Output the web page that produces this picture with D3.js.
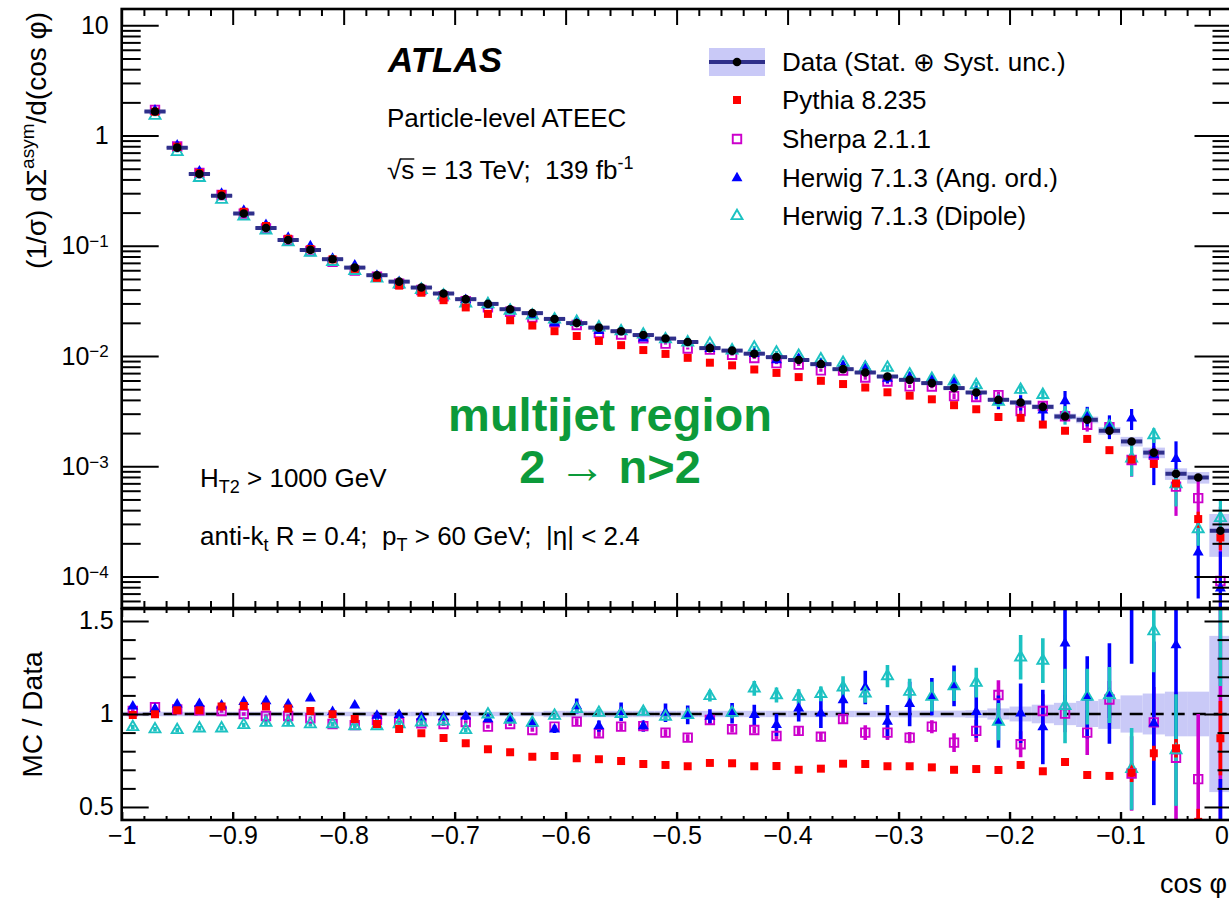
<!DOCTYPE html>
<html>
<head>
<meta charset="utf-8">
<script src="https://cdn.jsdelivr.net/npm/d3@7"></script>
<style>
html,body{margin:0;padding:0;background:#fff;}
svg{display:block;}
text{font-family:"Liberation Sans",Arial,Helvetica,sans-serif;}
</style>
</head>
<body>
<svg id="chart" width="1229" height="898"></svg>
<script>
// ---------------- DATA ----------------
const binCenters = [-0.99,-0.97,-0.95,-0.93,-0.91,-0.89,-0.87,-0.85,-0.83,-0.81,-0.79,-0.77,-0.75,-0.73,-0.71,-0.69,-0.67,-0.65,-0.63,-0.61,-0.59,-0.57,-0.55,-0.53,-0.51,-0.49,-0.47,-0.45,-0.43,-0.41,-0.39,-0.37,-0.35,-0.33,-0.31,-0.29,-0.27,-0.25,-0.23,-0.21,-0.19,-0.17,-0.15,-0.13,-0.11,-0.09,-0.07,-0.05,-0.03,-0.01];
const binHalfWidth = 0.01;

const dataValues = [25,1.65,0.777,0.449,0.284,0.196,0.145,0.113,0.0918,0.0756,0.0634,0.0541,0.0473,0.0418,0.0369,0.0328,0.0297,0.0266,0.0245,0.0217,0.0199,0.0181,0.0168,0.0155,0.0144,0.0134,0.0118,0.0112,0.0105,0.00977,0.0092,0.00844,0.0076,0.00709,0.00652,0.00608,0.00568,0.00512,0.00467,0.00401,0.00379,0.00346,0.00283,0.00264,0.0021,0.00168,0.00133,0.000855,0.000791,0.00026];
// relative total uncertainty of data (Stat. + Syst.)
const dataRelUnc = [0.012,0.012,0.012,0.012,0.012,0.012,0.012,0.012,0.012,0.012,0.012,0.012,0.012,0.012,0.012,0.012,0.012,0.012,0.012,0.017,0.017,0.017,0.017,0.017,0.017,0.017,0.017,0.017,0.017,0.017,0.017,0.017,0.017,0.017,0.017,0.018,0.018,0.018,0.02,0.03,0.04,0.05,0.06,0.07,0.08,0.1,0.11,0.12,0.12,0.42];

// Pythia 8.235
const pythiaValues = [24.9,1.647,0.793,0.458,0.295,0.204,0.151,0.116,0.0933,0.0754,0.0617,0.0512,0.0435,0.0375,0.0321,0.0276,0.0241,0.0211,0.0189,0.0168,0.0152,0.0137,0.01255,0.01133,0.01045,0.00963,0.0087,0.00823,0.00755,0.00703,0.00644,0.00596,0.00557,0.00518,0.00469,0.00437,0.00405,0.00358,0.00329,0.0028,0.00275,0.00239,0.0021,0.00177,0.0014,0.00115,0.00105,0.000698,0.000332,0.000226];
const pythiaRatio = [0.995,0.998,1.02,1.02,1.04,1.043,1.04,1.03,1.016,0.998,0.973,0.946,0.919,0.896,0.871,0.842,0.81,0.794,0.77,0.774,0.762,0.757,0.747,0.731,0.726,0.719,0.737,0.735,0.719,0.72,0.70,0.706,0.733,0.731,0.719,0.719,0.713,0.70,0.704,0.699,0.726,0.692,0.742,0.672,0.667,0.684,0.789,0.816,0.42,0.87];
const pythiaErr = [0.008,0.008,0.008,0.008,0.008,0.008,0.008,0.008,0.008,0.008,0.008,0.008,0.008,0.008,0.008,0.008,0.008,0.008,0.008,0.008,0.008,0.008,0.008,0.008,0.008,0.008,0.008,0.008,0.008,0.008,0.008,0.008,0.008,0.008,0.008,0.008,0.008,0.008,0.008,0.008,0.015,0.015,0.02,0.015,0.015,0.05,0.04,0.05,0.07,0.2];

// Sherpa 2.1.1
const sherpaValues = [25.4,1.709,0.796,0.458,0.2885,0.196,0.1434,0.1118,0.0897,0.0715,0.0596,0.0524,0.0452,0.0397,0.0349,0.0314,0.0277,0.0252,0.0224,0.0202,0.0191,0.0162,0.01566,0.01449,0.01296,0.0117,0.01142,0.01028,0.0096,0.00862,0.00836,0.00741,0.0074,0.00638,0.00587,0.00531,0.00529,0.00433,0.00425,0.00442,0.00317,0.00352,0.00284,0.00238,0.00226,0.00114,0.00127,0.000654,0.000514,0.000091];
const sherpaRatio = [1.016,1.036,1.025,1.02,1.016,1.0,0.989,0.989,0.977,0.946,0.94,0.968,0.955,0.95,0.946,0.957,0.932,0.946,0.914,0.932,0.959,0.896,0.932,0.935,0.90,0.873,0.968,0.918,0.914,0.882,0.909,0.878,0.973,0.90,0.90,0.873,0.932,0.846,0.909,1.102,0.837,1.016,1.002,0.90,1.078,0.68,0.955,0.765,0.65,0.35];
const sherpaErr = [0.01,0.01,0.01,0.01,0.01,0.01,0.01,0.01,0.01,0.01,0.01,0.01,0.01,0.01,0.01,0.01,0.01,0.01,0.01,0.01,0.018,0.018,0.018,0.018,0.018,0.018,0.018,0.018,0.018,0.018,0.025,0.025,0.025,0.04,0.04,0.03,0.035,0.05,0.06,0.08,0.07,0.09,0.1,0.12,0.1,0.2,0.19,0.35,0.35,1.3];

// Herwig 7.1.3 (Ang. ord.)
const herwigAngValues = [26.0,1.696,0.817,0.474,0.297,0.209,0.155,0.1189,0.0995,0.0764,0.0664,0.0536,0.0471,0.0411,0.0363,0.0324,0.0289,0.0259,0.0232,0.0199,0.02076,0.01692,0.0170,0.01449,0.0145,0.01333,0.01163,0.01124,0.01045,0.00919,0.00948,0.00847,0.00817,0.0081,0.00625,0.00641,0.00621,0.00589,0.00473,0.00385,0.00381,0.00322,0.00391,0.00288,0.00233,0.00272,0.00126,0.00117,0.000166,0.000078];
const herwigAngRatio = [1.041,1.028,1.052,1.055,1.047,1.065,1.07,1.052,1.084,1.011,1.047,0.991,0.996,0.984,0.984,0.988,0.972,0.975,0.948,0.918,1.043,0.935,1.012,0.935,1.007,0.995,0.986,1.004,0.995,0.941,1.03,1.004,1.075,1.143,0.959,1.054,1.093,1.151,1.012,0.959,1.004,0.93,1.38,1.09,1.11,1.62,0.95,1.37,0.21,0.3];
const herwigAngErr = [0.012,0.012,0.012,0.012,0.012,0.012,0.012,0.012,0.012,0.012,0.012,0.02,0.02,0.02,0.02,0.02,0.02,0.02,0.02,0.02,0.04,0.03,0.05,0.03,0.05,0.05,0.04,0.055,0.055,0.06,0.07,0.08,0.085,0.09,0.09,0.12,0.1,0.11,0.14,0.14,0.16,0.2,0.32,0.22,0.27,0.35,0.44,0.6,0.13,0.35];

// Herwig 7.1.3 (Dipole)
const herwigDipValues = [23.3,1.515,0.710,0.414,0.262,0.1844,0.1382,0.1077,0.0868,0.0715,0.0593,0.0506,0.0447,0.0399,0.0354,0.03,0.0296,0.0258,0.02335,0.0215,0.02044,0.01823,0.0168,0.01569,0.0142,0.01333,0.01294,0.01128,0.01195,0.01077,0.01006,0.00935,0.00869,0.00788,0.00785,0.00681,0.00621,0.00589,0.00545,0.00385,0.00495,0.00445,0.00295,0.00289,0.00231,0.00118,0.00192,0.000689,0.000269,0.00034];
const herwigDipRatio = [0.93,0.918,0.914,0.923,0.923,0.941,0.953,0.953,0.945,0.946,0.935,0.935,0.946,0.955,0.96,0.914,0.998,0.97,0.953,0.991,1.027,1.007,1.0,1.012,0.986,0.995,1.097,1.007,1.138,1.102,1.093,1.108,1.143,1.111,1.204,1.12,1.093,1.15,1.168,0.959,1.305,1.287,1.043,1.093,1.102,0.705,1.445,0.806,0.34,1.75];
const herwigDipErr = [0.012,0.012,0.012,0.012,0.012,0.012,0.012,0.012,0.012,0.012,0.012,0.012,0.012,0.012,0.012,0.012,0.012,0.012,0.012,0.012,0.02,0.02,0.02,0.02,0.02,0.02,0.03,0.03,0.04,0.04,0.04,0.04,0.06,0.05,0.06,0.07,0.08,0.08,0.08,0.1,0.12,0.12,0.2,0.15,0.15,0.22,0.22,0.3,0.1,0.6];

// axis ticks
const xTickValues = [-1,-0.9,-0.8,-0.7,-0.6,-0.5,-0.4,-0.3,-0.2,-0.1,0];
const yTickValuesUpper = [1e-4,1e-3,1e-2,1e-1,1,10];
const yTickValuesRatio = [0.5,1,1.5];
const yMinorTickValuesRatio = [0.6,0.7,0.8,0.9,1.1,1.2,1.3,1.4];

// ---------------- LAYOUT / STYLE ----------------
const plotLeft = 121.7, plotRight = 1231.5;
const upperTop = 9, upperBottom = 608, ratioTop = 609, ratioBottom = 820;
const FONT = '"Liberation Sans",Arial,Helvetica,sans-serif';
const bandColor = "#c9c9f7";
const dataBarColor = "#2f2f8a";

const svg = d3.select("#chart");
const x = d3.scaleLinear().domain([-1, 0]).range([plotLeft, plotRight]);
const yUp = d3.scaleLog().domain([5.18e-5, 14.06]).range([upperBottom, upperTop]);
const yLo = d3.scaleLinear().domain([0.43, 1.5645]).range([ratioBottom, ratioTop]);

const defs = svg.append("defs");
defs.append("clipPath").attr("id","clipUp").append("rect")
  .attr("x",plotLeft).attr("y",upperTop).attr("width",plotRight-plotLeft).attr("height",upperBottom-upperTop);
defs.append("clipPath").attr("id","clipLo").append("rect")
  .attr("x",plotLeft).attr("y",ratioTop).attr("width",plotRight-plotLeft).attr("height",ratioBottom-ratioTop);

const mcSeries = [
  {key:"sherpa", label:"Sherpa 2.1.1", values:sherpaValues, ratio:sherpaRatio, err:sherpaErr, color:"#cc00cc", symbol:d3.symbolSquare, size:72, open:true},
  {key:"ang", label:"Herwig 7.1.3 (Ang. ord.)", values:herwigAngValues, ratio:herwigAngRatio, err:herwigAngErr, color:"#0000ff", symbol:d3.symbolTriangle, size:52, open:false},
  {key:"dip", label:"Herwig 7.1.3 (Dipole)", values:herwigDipValues, ratio:herwigDipRatio, err:herwigDipErr, color:"#1cc2c2", symbol:d3.symbolTriangle, size:52, open:true},
  {key:"pythia", label:"Pythia 8.235", values:pythiaValues, ratio:pythiaRatio, err:pythiaErr, color:"#ff0000", symbol:d3.symbolSquare, size:64, open:false}
];
const legendOrder = ["pythia","sherpa","ang","dip"];

function styleMarker(sel, s){
  sel.attr("d", d3.symbol(s.symbol, s.size)())
     .attr("fill", s.open ? "none" : s.color)
     .attr("stroke", s.open ? s.color : "none")
     .attr("stroke-width", s.open ? 1.9 : 0);
}

// ---------------- UPPER PANEL ----------------
const up = svg.append("g").attr("clip-path","url(#clipUp)");
up.selectAll("rect.band").data(binCenters).join("rect").attr("class","band")
  .attr("x", c => x(c - binHalfWidth)).attr("width", c => x(c + binHalfWidth) - x(c - binHalfWidth))
  .attr("y", (c,i) => yUp(dataValues[i]*(1+dataRelUnc[i])))
  .attr("height", (c,i) => yUp(dataValues[i]*(1-dataRelUnc[i])) - yUp(dataValues[i]*(1+dataRelUnc[i])))
  .attr("fill", bandColor);

mcSeries.forEach(s => {
  up.append("g").selectAll("line").data(binCenters).join("line")
    .attr("x1", c => x(c)).attr("x2", c => x(c))
    .attr("y1", (c,i) => yUp(Math.max(s.values[i] - s.err[i]*dataValues[i], 1e-7)))
    .attr("y2", (c,i) => yUp(s.values[i] + s.err[i]*dataValues[i]))
    .attr("stroke", s.color).attr("stroke-width", 3.2);
});
mcSeries.forEach(s => {
  up.append("g").selectAll("path").data(binCenters).join("path")
    .attr("transform", (c,i) => `translate(${x(c)},${yUp(s.values[i])})`)
    .call(styleMarker, s);
});
up.append("g").selectAll("line").data(binCenters).join("line")
  .attr("x1", c => x(c - binHalfWidth) + 0.5).attr("x2", c => x(c + binHalfWidth) - 0.5)
  .attr("y1", (c,i) => yUp(dataValues[i])).attr("y2", (c,i) => yUp(dataValues[i]))
  .attr("stroke", dataBarColor).attr("stroke-width", 4);
up.append("g").selectAll("path").data(binCenters).join("path")
  .attr("transform", (c,i) => `translate(${x(c)},${yUp(dataValues[i])})`)
  .attr("d", d3.symbol(d3.symbolCircle, 58)()).attr("fill", "#000");

// ---------------- RATIO PANEL ----------------
const lo = svg.append("g").attr("clip-path","url(#clipLo)");
lo.selectAll("rect.band").data(binCenters).join("rect").attr("class","band")
  .attr("x", c => x(c - binHalfWidth)).attr("width", c => x(c + binHalfWidth) - x(c - binHalfWidth))
  .attr("y", (c,i) => yLo(1 + dataRelUnc[i]))
  .attr("height", (c,i) => yLo(1 - dataRelUnc[i]) - yLo(1 + dataRelUnc[i]))
  .attr("fill", bandColor);
lo.append("line").attr("x1", plotLeft).attr("x2", plotRight).attr("y1", yLo(1)).attr("y2", yLo(1))
  .attr("stroke","#000").attr("stroke-width",2.6).attr("stroke-dasharray","13,8");
mcSeries.forEach(s => {
  lo.append("g").selectAll("line").data(binCenters).join("line")
    .attr("x1", c => x(c)).attr("x2", c => x(c))
    .attr("y1", (c,i) => yLo(s.ratio[i] - s.err[i]))
    .attr("y2", (c,i) => yLo(s.ratio[i] + s.err[i]))
    .attr("stroke", s.color).attr("stroke-width", 3.6);
});
mcSeries.forEach(s => {
  lo.append("g").selectAll("path").data(binCenters).join("path")
    .attr("transform", (c,i) => `translate(${x(c)},${yLo(s.ratio[i])})`)
    .call(styleMarker, s);
});

// ---------------- AXES ----------------
function cleanAxis(g, sw){
  g.select(".domain").remove();
  g.selectAll(".tick line").attr("stroke","#000").attr("stroke-width", sw || 2);
  g.attr("font-family", FONT).attr("font-size", 25);
  g.selectAll(".tick text").attr("fill","#000");
}
const xMinor = d3.range(-0.98, 0, 0.02).filter(v => Math.abs(v*10 - Math.round(v*10)) > 0.05);
const yMinorUpper = [];
for (let e = -5; e <= 1; e++) for (let m = 2; m <= 9; m++) { const v = m*Math.pow(10,e); if (v > 5.18e-5 && v < 14.06) yMinorUpper.push(v); }

// upper: left y
svg.append("g").attr("transform",`translate(${plotLeft},0)`)
  .call(d3.axisLeft(yUp).tickValues(yTickValuesUpper).tickSizeInner(-37).tickSizeOuter(0).tickPadding(13).tickFormat(() => ""))
  .call(g => cleanAxis(g, 2))
  .call(g => g.selectAll(".tick text").each(function(d){
    const t = d3.select(this); const e = Math.round(Math.log10(d));
    if (e === 0) t.text("1");
    else if (e === 1) t.text("10");
    else { t.text("10"); t.append("tspan").attr("dy","-0.42em").attr("font-size",17).text("\u2212" + Math.abs(e)); }
  }));
svg.append("g").attr("transform",`translate(${plotLeft},0)`)
  .call(d3.axisLeft(yUp).tickValues(yMinorUpper).tickSizeInner(-19).tickSizeOuter(0).tickFormat(() => ""))
  .call(g => cleanAxis(g, 2));
// upper: right y
svg.append("g").attr("transform",`translate(${plotRight},0)`)
  .call(d3.axisRight(yUp).tickValues(yTickValuesUpper).tickSizeInner(-37).tickSizeOuter(0).tickFormat(() => ""))
  .call(g => cleanAxis(g, 2));
svg.append("g").attr("transform",`translate(${plotRight},0)`)
  .call(d3.axisRight(yUp).tickValues(yMinorUpper).tickSizeInner(-19).tickSizeOuter(0).tickFormat(() => ""))
  .call(g => cleanAxis(g, 2));
// upper: top x and bottom x ticks
svg.append("g").attr("transform",`translate(0,${upperTop})`)
  .call(d3.axisBottom(x).tickValues(xTickValues).tickSizeInner(16).tickSizeOuter(0).tickFormat(() => ""))
  .call(g => cleanAxis(g, 2));
svg.append("g").attr("transform",`translate(0,${upperTop})`)
  .call(d3.axisBottom(x).tickValues(xMinor).tickSizeInner(7).tickSizeOuter(0).tickFormat(() => ""))
  .call(g => cleanAxis(g, 2));
svg.append("g").attr("transform",`translate(0,${upperBottom})`)
  .call(d3.axisTop(x).tickValues(xTickValues).tickSizeInner(15).tickSizeOuter(0).tickFormat(() => ""))
  .call(g => cleanAxis(g, 2));
svg.append("g").attr("transform",`translate(0,${upperBottom})`)
  .call(d3.axisTop(x).tickValues(xMinor).tickSizeInner(7).tickSizeOuter(0).tickFormat(() => ""))
  .call(g => cleanAxis(g, 2));

// ratio: left / right y
svg.append("g").attr("transform",`translate(${plotLeft},0)`)
  .call(d3.axisLeft(yLo).tickValues(yTickValuesRatio).tickSizeInner(-27).tickSizeOuter(0).tickPadding(8).tickFormat(d3.format("~g")))
  .call(g => cleanAxis(g, 2));
svg.append("g").attr("transform",`translate(${plotLeft},0)`)
  .call(d3.axisLeft(yLo).tickValues(yMinorTickValuesRatio).tickSizeInner(-14).tickSizeOuter(0).tickFormat(() => ""))
  .call(g => cleanAxis(g, 2));
svg.append("g").attr("transform",`translate(${plotRight},0)`)
  .call(d3.axisRight(yLo).tickValues(yTickValuesRatio).tickSizeInner(-27).tickSizeOuter(0).tickFormat(() => ""))
  .call(g => cleanAxis(g, 2));
svg.append("g").attr("transform",`translate(${plotRight},0)`)
  .call(d3.axisRight(yLo).tickValues(yMinorTickValuesRatio).tickSizeInner(-14).tickSizeOuter(0).tickFormat(() => ""))
  .call(g => cleanAxis(g, 2));
// ratio: top ticks and bottom axis with labels
svg.append("g").attr("transform",`translate(0,${ratioTop})`)
  .call(d3.axisBottom(x).tickValues(xTickValues).tickSizeInner(8).tickSizeOuter(0).tickFormat(() => ""))
  .call(g => cleanAxis(g, 2));
svg.append("g").attr("transform",`translate(0,${ratioTop})`)
  .call(d3.axisBottom(x).tickValues(xMinor).tickSizeInner(4).tickSizeOuter(0).tickFormat(() => ""))
  .call(g => cleanAxis(g, 2));
svg.append("g").attr("transform",`translate(0,${ratioBottom})`)
  .call(d3.axisBottom(x).tickValues(xTickValues).tickSizeInner(-8).tickSizeOuter(0).tickPadding(6).tickFormat(d3.format("~g")))
  .call(g => cleanAxis(g, 2.4))
  .call(g => g.selectAll(".tick text").filter(d => d === 0).attr("text-anchor","end").attr("x",-3));
svg.append("g").attr("transform",`translate(0,${ratioBottom})`)
  .call(d3.axisTop(x).tickValues(xMinor).tickSizeInner(4).tickSizeOuter(0).tickFormat(() => ""))
  .call(g => cleanAxis(g, 2));

// frames
svg.append("rect").attr("x",plotLeft).attr("y",upperTop).attr("width",plotRight-plotLeft).attr("height",upperBottom-upperTop)
  .attr("fill","none").attr("stroke","#000").attr("stroke-width",2.6);
svg.append("rect").attr("x",plotLeft).attr("y",ratioTop).attr("width",plotRight-plotLeft).attr("height",ratioBottom-ratioTop)
  .attr("fill","none").attr("stroke","#000").attr("stroke-width",2.6);

// ---------------- AXIS TITLES ----------------
const yt = svg.append("text").attr("transform","translate(46,12) rotate(-90)")
  .attr("text-anchor","end").attr("font-size",28).attr("font-family",FONT).style("white-space","pre");
yt.append("tspan").text("(1/\u03c3) d\u03a3");
yt.append("tspan").attr("dy",-12).attr("font-size",19).text("asym");
yt.append("tspan").attr("dy",12).text("/d(cos \u03c6)");

svg.append("text").attr("transform",`translate(42,${(ratioTop+ratioBottom)/2}) rotate(-90)`)
  .attr("text-anchor","middle").attr("font-size",28).attr("font-family",FONT).style("white-space","pre")
  .text("MC / Data");

svg.append("text").attr("x",1227).attr("y",893).attr("text-anchor","end")
  .attr("font-size",27).attr("font-family",FONT).style("white-space","pre").text("cos \u03c6");

// ---------------- LABELS ----------------
svg.append("text").attr("x",388).attr("y",72).attr("font-size",35).attr("font-weight","bold")
  .attr("font-style","italic").attr("font-family",FONT).text("ATLAS");
svg.append("text").attr("x",387).attr("y",127).attr("font-size",26).attr("font-family",FONT).text("Particle-level ATEEC");

const sq = svg.append("text").attr("x",387).attr("y",179).attr("font-size",26).attr("font-family",FONT).style("white-space","pre");
sq.append("tspan").text("\u221a");
sq.append("tspan").text("s");
sq.append("tspan").text(" = 13 TeV;  139 fb");
sq.append("tspan").attr("dy",-10).attr("font-size",18).text("-1");
{
  const n = sq.node();
  const w1 = n.getSubStringLength(0,1), w2 = n.getSubStringLength(0,2);
  svg.append("line").attr("x1",387 + w1 - 1).attr("x2",387 + w2).attr("y1",179-20).attr("y2",179-20)
    .attr("stroke","#000").attr("stroke-width",1.4);
}

const ht = svg.append("text").attr("x",200).attr("y",487).attr("font-size",26).attr("font-family",FONT).style("white-space","pre");
ht.append("tspan").text("H");
ht.append("tspan").attr("dy",6).attr("font-size",18).text("T2");
ht.append("tspan").attr("dy",-6).text(" > 1000 GeV");

const ak = svg.append("text").attr("x",200).attr("y",545).attr("font-size",26).attr("font-family",FONT).style("white-space","pre");
ak.append("tspan").text("anti-k");
ak.append("tspan").attr("dy",6).attr("font-size",18).text("t");
ak.append("tspan").attr("dy",-6).text(" R = 0.4;  p");
ak.append("tspan").attr("dy",6).attr("font-size",18).text("T");
ak.append("tspan").attr("dy",-6).text(" > 60 GeV;  |\u03b7| < 2.4");

const green = "#0c9a3a";
svg.append("text").attr("x",610).attr("y",431).attr("text-anchor","middle").attr("font-size",47)
  .attr("font-weight","bold").attr("fill",green).attr("font-family",FONT).text("multijet region");
const g2 = svg.append("text").attr("x",610).attr("y",483).attr("text-anchor","middle").attr("font-size",47)
  .attr("font-weight","bold").attr("fill",green).attr("font-family",FONT).style("white-space","pre");
g2.append("tspan").text("2 ");
g2.append("tspan").attr("font-weight","normal").text("\u2192");
g2.append("tspan").text(" n>2");

// ---------------- LEGEND ----------------
const legX = 737, legTextX = 782;
const legRows = [62, 100, 139, 178, 216];
const lg = svg.append("g");
lg.append("rect").attr("x",709).attr("y",legRows[0]-14).attr("width",56).attr("height",28).attr("fill",bandColor);
lg.append("line").attr("x1",709).attr("x2",765).attr("y1",legRows[0]).attr("y2",legRows[0]).attr("stroke",dataBarColor).attr("stroke-width",4);
lg.append("path").attr("transform",`translate(${legX},${legRows[0]})`).attr("d", d3.symbol(d3.symbolCircle,58)()).attr("fill","#000");
lg.append("text").attr("x",legTextX).attr("y",legRows[0]+9).attr("font-size",26).attr("font-family",FONT)
  .style("white-space","pre").text("Data (Stat. \u2295 Syst. unc.)");
legendOrder.forEach((k, j) => {
  const s = mcSeries.find(m => m.key === k);
  const yy = legRows[j+1];
  lg.append("path").attr("transform",`translate(${legX},${yy})`).call(styleMarker, s);
  lg.append("text").attr("x",legTextX).attr("y",yy+9).attr("font-size",26).attr("font-family",FONT).text(s.label);
});
</script>
</body>
</html>
